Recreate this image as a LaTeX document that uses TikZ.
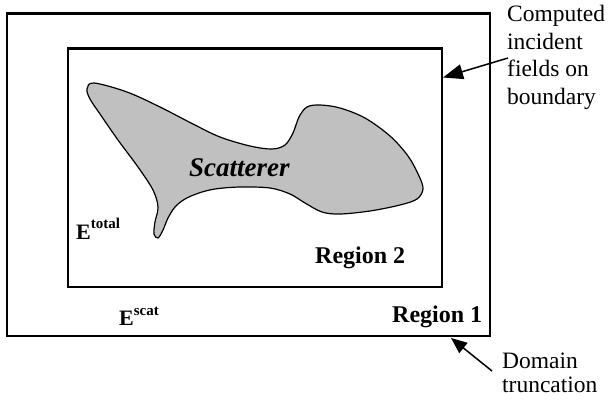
\documentclass[tikz,border=0pt]{standalone}
\usepackage{fontspec}
\setmainfont{Liberation Serif}
\usetikzlibrary{arrows.meta}
\definecolor{scatgray}{RGB}{192,192,192}
\tikzset{
  boxline/.style={line width=2.8pt},
  callout/.style={line width=1.5pt,-{Triangle[length=20pt,width=15pt]}},
  calloutsmall/.style={line width=1.5pt,-{Triangle[length=16pt,width=13pt]}},
  note/.style={inner sep=0pt,align=left,font=\fontsize{23.5}{27.7}\selectfont},
  regionlabel/.style={inner sep=0pt,anchor=base west,font=\fontsize{24}{24}\selectfont\bfseries},
}
\begin{document}
\begin{tikzpicture}[x=1pt,y=-1pt]
\useasboundingbox (0,0) rectangle (611,401);
% boxes
\coordinate (o1) at (7,13.5);
\coordinate (o2) at (490,336);
\coordinate (i1) at (68,48.5);
\coordinate (i2) at (442,287);
\draw[boxline] (o1) rectangle (o2);
\draw[boxline] (i1) rectangle (i2);
% scatterer
\draw[line width=1.2pt, fill=scatgray] plot[smooth cycle, tension=0.55] coordinates {
(87,89) (94,83) (127,92) (160,107) (193,124) (220,137) (250,146) (272,149)
(285,145) (293,133) (299,117) (307,107) (320,105) (340,108) (365,118)
(390,136) (408,156) (419,176) (423,189) (417,199) (400,205) (370,211)
(340,214) (322,212) (305,203) (290,194) (270,188) (240,187) (215,189)
(199,193) (185,199) (175,207) (168,218) (163,230) (158,238) (154,234)
(155,222) (158,207) (153,190) (138,167) (118,140) (100,114) (90,99)};
\node[inner sep=0pt,anchor=base west,font=\fontsize{27}{27}\selectfont\bfseries\itshape] (scat) at (189,177) {Scatterer};
% labels
\node[regionlabel] (r2) at (315,263) {Region 2};
\node[regionlabel] (r1) at (392,322) {Region 1};
\node[inner sep=0pt,anchor=base west,font=\fontsize{22}{22}\selectfont\bfseries] (etot) at (76,240) {E\raisebox{11pt}{\fontsize{15}{15}\selectfont total}};
\node[inner sep=0pt,anchor=base west,font=\fontsize{22}{22}\selectfont\bfseries] (escat) at (119,325) {E\raisebox{10pt}{\fontsize{15}{15}\selectfont scat}};
% notes
\node[note,anchor=north west] (n1) at (507,5) {Computed\\incident\\fields on\\boundary};
\node[note,anchor=north west,font=\fontsize{23.5}{23.5}\selectfont] (n2) at (502,353) {Domain\\truncation};
% callouts
\coordinate (ta) at (508,58);
\coordinate (ha) at (443,77.5);
\draw[callout] (ta) -- (ha);
\coordinate (tb) at (492,371);
\coordinate (hb) at (451,338);
\draw[calloutsmall] (tb) -- (hb);
\end{tikzpicture}
\end{document}
